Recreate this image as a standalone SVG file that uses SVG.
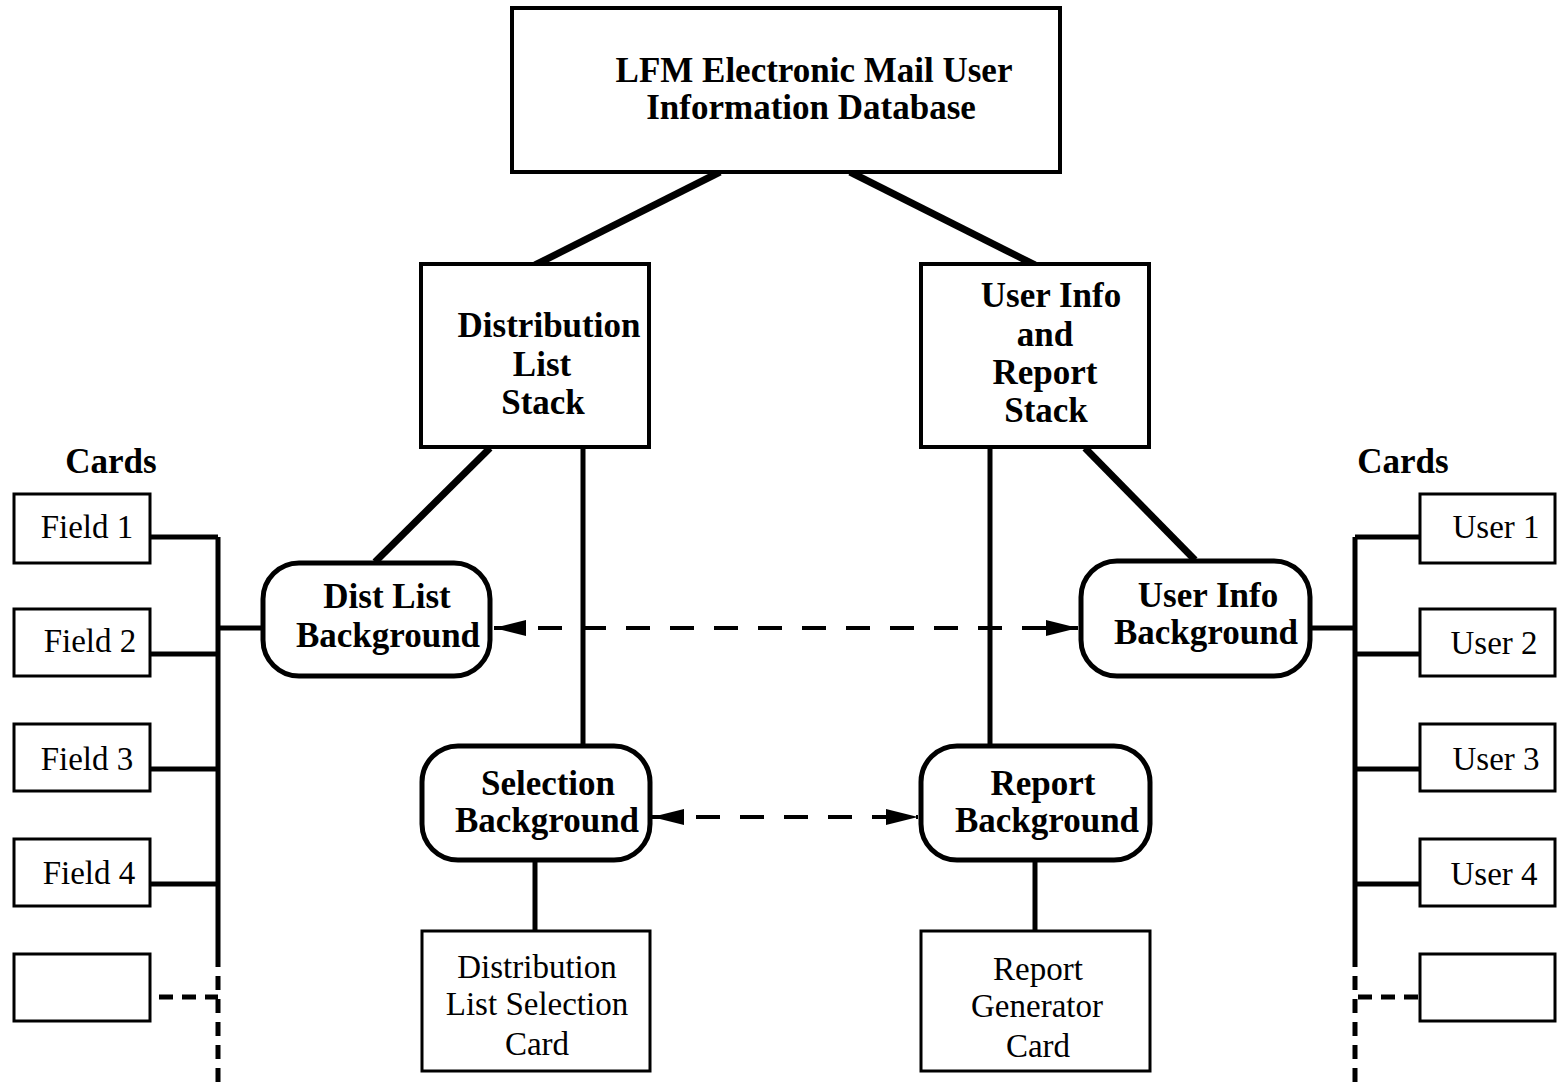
<svg xmlns="http://www.w3.org/2000/svg" width="1557" height="1091" viewBox="0 0 1557 1091">
  <style>
    .box { fill: #fff; stroke: #000; stroke-width: 4; }
    .card { fill: #fff; stroke: #000; stroke-width: 3; }
    .bg { fill: #fff; stroke: #000; stroke-width: 5; }
    .b { font-family: "Liberation Serif", "Times New Roman", serif; font-weight: bold; font-size: 35px; text-anchor: middle; fill: #000; }
    .r { font-family: "Liberation Serif", "Times New Roman", serif; font-size: 33px; text-anchor: middle; fill: #000; }
    .line { stroke: #000; fill: none; stroke-width: 5; }
    .thick { stroke: #000; fill: none; stroke-width: 7; }
    .dash { stroke: #000; fill: none; stroke-width: 4; stroke-dasharray: 24 20; }
    .dot { stroke: #000; fill: none; stroke-width: 5; stroke-dasharray: 14 9; }
  </style>
  <defs>
    <marker id="ah" viewBox="0 0 20 10" refX="20" refY="5" markerWidth="8" markerHeight="4" markerUnits="strokeWidth" orient="auto-start-reverse">
      <path d="M0,0 L20,5 L0,10 Z" fill="#000"/>
    </marker>
  </defs>
  <rect width="1557" height="1091" fill="#fff"/>

  <!-- connectors -->
  <g id="connectors">
    <line class="thick" x1="720" y1="172" x2="535" y2="265"/>
    <line class="thick" x1="850" y1="172" x2="1035" y2="265"/>
    <line class="thick" x1="490" y1="448" x2="375" y2="562"/>
    <line class="line" x1="583" y1="448" x2="583" y2="745"/>
    <line class="line" x1="990" y1="448" x2="990" y2="745"/>
    <line class="thick" x1="1085" y1="448" x2="1195" y2="560"/>
    <line class="line" x1="535" y1="860" x2="535" y2="930"/>
    <line class="line" x1="1035" y1="860" x2="1035" y2="930"/>
    <!-- left card bus -->
    <path class="line" d="M218,537 V967 M150,537 H218 M150,654 H218 M150,769 H218 M150,884 H218 M218,628 H262"/>
    <path class="dot" d="M159,997 H218 M218,976 V1091"/>
    <!-- right card bus -->
    <path class="line" d="M1355,537 V967 M1355,537 H1420 M1355,654 H1420 M1355,769 H1420 M1355,884 H1420 M1310,628 H1355"/>
    <path class="dot" d="M1418,997 H1355 M1355,976 V1091"/>
    <!-- background links -->
    <line class="dash" x1="494" y1="628" x2="1078" y2="628" marker-start="url(#ah)" marker-end="url(#ah)"/>
    <line class="dash" x1="652" y1="817" x2="918" y2="817" marker-start="url(#ah)" marker-end="url(#ah)"/>
  </g>

  <g id="database">
    <rect class="box" x="512" y="8" width="548" height="164"/>
    <text class="b" x="814" y="82">LFM Electronic Mail User</text>
    <text class="b" x="811" y="119">Information Database</text>
  </g>

  <g id="dist-stack">
    <rect class="box" x="421" y="264" width="228" height="183"/>
    <text class="b" x="549" y="337">Distribution</text>
    <text class="b" x="542" y="376">List</text>
    <text class="b" x="543" y="414">Stack</text>
  </g>

  <g id="user-stack">
    <rect class="box" x="921" y="264" width="228" height="183"/>
    <text class="b" x="1051" y="307">User Info</text>
    <text class="b" x="1045" y="346">and</text>
    <text class="b" x="1045" y="384">Report</text>
    <text class="b" x="1046" y="422">Stack</text>
  </g>

  <g id="dist-bg">
    <rect class="bg" x="263" y="563" width="227" height="113" rx="36"/>
    <text class="b" x="387" y="608">Dist List</text>
    <text class="b" x="388" y="647">Background</text>
  </g>

  <g id="user-bg">
    <rect class="bg" x="1081" y="561" width="229" height="115" rx="36"/>
    <text class="b" x="1208" y="607">User Info</text>
    <text class="b" x="1206" y="644">Background</text>
  </g>

  <g id="selection-bg">
    <rect class="bg" x="422" y="746" width="228" height="114" rx="36"/>
    <text class="b" x="548" y="795">Selection</text>
    <text class="b" x="547" y="832">Background</text>
  </g>

  <g id="report-bg">
    <rect class="bg" x="921" y="746" width="229" height="114" rx="36"/>
    <text class="b" x="1043" y="795">Report</text>
    <text class="b" x="1047" y="832">Background</text>
  </g>

  <g id="selection-card">
    <rect class="card" x="422" y="931" width="228" height="140"/>
    <text class="r" x="537" y="978">Distribution</text>
    <text class="r" x="537" y="1015">List Selection</text>
    <text class="r" x="537" y="1055">Card</text>
  </g>

  <g id="report-card">
    <rect class="card" x="921" y="931" width="229" height="140"/>
    <text class="r" x="1038" y="980">Report</text>
    <text class="r" x="1037" y="1017">Generator</text>
    <text class="r" x="1038" y="1057">Card</text>
  </g>

  <g id="field-cards">
    <text class="b" x="111" y="473">Cards</text>
    <g id="field-1"><rect class="card" x="14" y="494" width="136" height="69"/><text class="r" x="87" y="538">Field 1</text></g>
    <g id="field-2"><rect class="card" x="14" y="609" width="136" height="67"/><text class="r" x="90" y="652">Field 2</text></g>
    <g id="field-3"><rect class="card" x="14" y="724" width="136" height="67"/><text class="r" x="87" y="770">Field 3</text></g>
    <g id="field-4"><rect class="card" x="14" y="839" width="136" height="67"/><text class="r" x="89" y="884">Field 4</text></g>
    <g id="field-n"><rect class="card" x="14" y="954" width="136" height="67"/></g>
  </g>

  <g id="user-cards">
    <text class="b" x="1403" y="473">Cards</text>
    <g id="user-1"><rect class="card" x="1420" y="494" width="135" height="69"/><text class="r" x="1496" y="538">User 1</text></g>
    <g id="user-2"><rect class="card" x="1420" y="609" width="135" height="67"/><text class="r" x="1494" y="654">User 2</text></g>
    <g id="user-3"><rect class="card" x="1420" y="724" width="135" height="67"/><text class="r" x="1496" y="770">User 3</text></g>
    <g id="user-4"><rect class="card" x="1420" y="839" width="135" height="67"/><text class="r" x="1494" y="885">User 4</text></g>
    <g id="user-n"><rect class="card" x="1420" y="954" width="135" height="67"/></g>
  </g>
</svg>
